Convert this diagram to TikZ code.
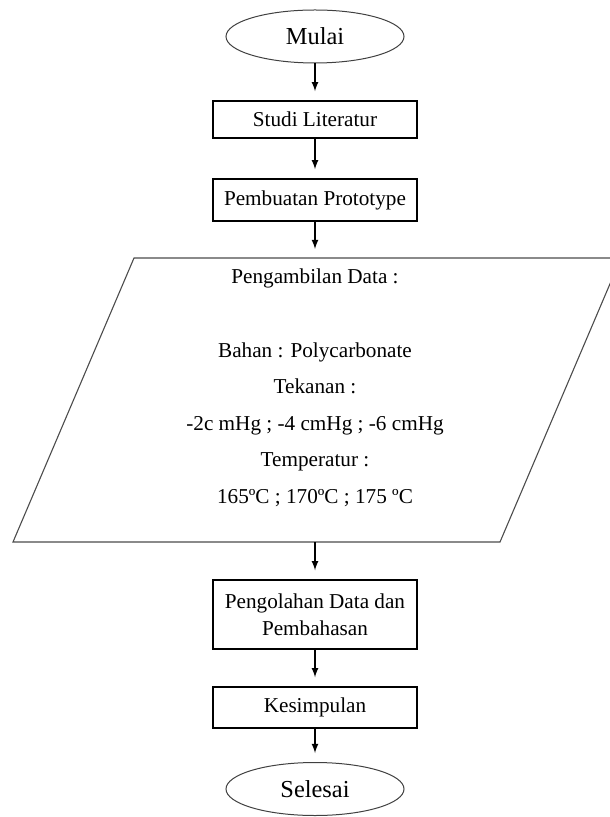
\documentclass[tikz,border=0pt]{standalone}
\usepackage{fontspec}
\setmainfont{Liberation Serif}
\usetikzlibrary{shapes.geometric}

\begin{document}
\begin{tikzpicture}[x=.5pt,y=-.5pt]
    \tikzset{font={\fontsize{10.6pt}{13.5pt}\selectfont}}
    \tikzset{box/.style={draw,line width=.75pt,minimum width=102pt,inner sep=0pt,align=center},
      term/.style={draw,ellipse,line width=.5pt,draw=black!75,minimum width=89pt,minimum height=26.5pt,
        inner sep=0pt,font={\fontsize{12.2pt}{14pt}\selectfont}},
      arr/.style={-latex,line width=.6pt,shorten >=4.5pt}}
    \useasboundingbox (0,0) rectangle (609,817);
    \node[term] (mulai) at (315,36.5) {Mulai};
    \node[box,minimum height=18.5pt] (studi) at (315,119.5) {Studi Literatur};
    \node[box,minimum height=21pt] (proto) at (315,200) {Pembuatan Prototype};
    % input data
    \draw[line width=.55pt,black!70] (134,258)--(621,258)--(500,542)--(13,542)--cycle;
    \coordinate (dtop) at (315,258);
    \coordinate (dbot) at (315,542);
    \node[align=center,font={\fontsize{10.6pt}{18.3pt}\selectfont}] (data) at (315,388)
      {Pengambilan Data :\\[18.3pt]
       Bahan : Polycarbonate\\
       Tekanan :\\
       -2c mHg ; -4 cmHg ; -6 cmHg\\
       Temperatur :\\
       165ºC ; 170ºC ; 175 ºC};
    \node[box,minimum height=34.5pt] (olah) at (315,614.5) {Pengolahan Data dan\\Pembahasan};
    \node[box,minimum height=20.5pt] (simpul) at (315,707.5) {Kesimpulan};
    \node[term] (selesai) at (315,789) {Selesai};
    \draw[arr] (mulai) -- (studi);
    \draw[arr] (studi) -- (proto);
    \draw[arr] (proto) -- (dtop);
    \draw[arr] (dbot) -- (olah);
    \draw[arr] (olah) -- (simpul);
    \draw[arr] (simpul) -- (selesai);
\end{tikzpicture}
\end{document}
